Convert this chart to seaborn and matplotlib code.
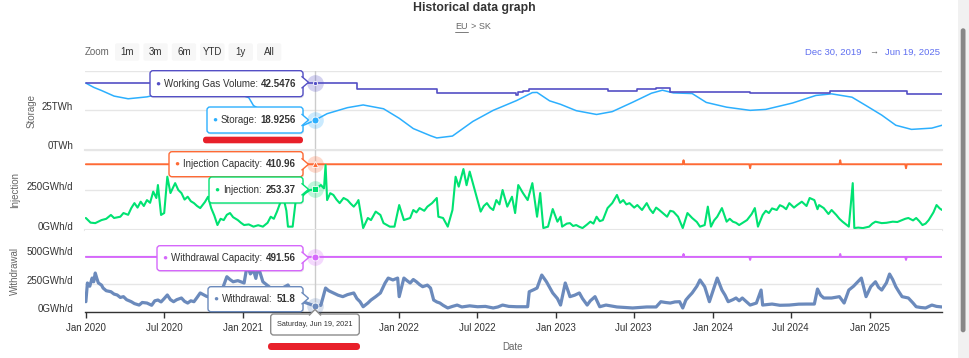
import numpy as np
import pandas as pd
import matplotlib
matplotlib.use('Agg')
import matplotlib.pyplot as plt
import matplotlib.dates as mdates
from matplotlib.ticker import FuncFormatter
import seaborn as sns
from matplotlib.patches import FancyBboxPatch, Polygon, Rectangle
from matplotlib.transforms import Affine2D, ScaledTranslation
from matplotlib.lines import Line2D

# ── data (time in years after 1 Jan 2020) ────────────────────────────────────
storage_pts = [
    (0.00, 42.2), (0.05, 39.5), (0.10, 37.5), (0.18, 34.0), (0.27, 32.3), (0.39, 33.5),
    (0.55, 37.0), (0.75, 40.5), (0.90, 38.0), (1.04, 33.0), (1.07, 28.0), (1.21, 20.0),
    (1.34, 14.8), (1.39, 15.6), (1.465, 18.9256), (1.54, 22.9), (1.67, 26.7), (1.77, 28.4),
    (1.90, 26.0), (2.00, 20.0), (2.09, 13.5), (2.20, 9.0), (2.24, 7.6), (2.34, 8.8),
    (2.47, 18.0), (2.60, 25.0), (2.75, 31.2), (2.85, 36.2), (2.88, 36.3), (2.96, 31.0),
    (3.03, 28.8), (3.13, 24.8), (3.26, 22.4), (3.36, 24.2), (3.49, 30.1), (3.61, 35.8),
    (3.68, 37.7), (3.75, 36.0), (3.87, 35.6), (3.96, 30.0), (4.09, 27.0), (4.24, 25.0),
    (4.34, 25.6), (4.51, 29.6), (4.66, 34.4), (4.76, 35.4), (4.89, 33.3), (4.98, 28.0),
    (5.08, 22.0), (5.17, 15.6), (5.27, 13.0), (5.40, 13.8), (5.465, 15.6),
]
wgv_pts = [
    (0.00, 42.5476), (1.73, 38.5), (2.24, 36.0), (2.745, 34.8), (2.76, 36.5), (2.79, 37.0),
    (2.83, 38.7), (3.33, 37.3), (3.52, 38.2), (3.64, 39.0), (3.73, 36.8), (4.24, 36.0),
    (4.75, 37.3), (5.24, 35.0), (5.465, 35.0),
]
inj_pts = [
    (0.00, 75), (0.03, 46), (0.06, 43), (0.10, 62), (0.13, 70), (0.16, 94), (0.18, 75),
    (0.22, 83), (0.24, 106), (0.27, 95), (0.29, 137), (0.31, 168), (0.33, 140), (0.35, 177),
    (0.37, 150), (0.39, 187), (0.41, 170), (0.43, 240), (0.45, 200), (0.46, 281), (0.48, 94),
    (0.50, 106), (0.52, 333), (0.54, 231), (0.57, 293), (0.59, 250), (0.61, 231), (0.63, 190),
    (0.65, 208), (0.67, 180), (0.69, 168), (0.71, 150), (0.73, 137), (0.76, 175), (0.78, 208),
    (0.80, 137), (0.82, 90), (0.84, 31), (0.86, 70), (0.88, 62), (0.90, 95), (0.92, 106),
    (0.94, 80), (0.97, 62), (0.99, 45), (1.01, 31), (1.04, 35), (1.07, 21), (1.10, 30),
    (1.13, 21), (1.16, 45), (1.18, 83), (1.20, 70), (1.22, 115), (1.24, 168), (1.26, 208),
    (1.28, 120), (1.29, 21), (1.32, 21), (1.34, 187), (1.37, 200), (1.40, 230), (1.43, 250),
    (1.465, 253.37), (1.50, 281), (1.52, 260), (1.53, 406), (1.54, 187), (1.56, 230),
    (1.58, 219), (1.60, 190), (1.62, 168), (1.645, 200), (1.67, 187), (1.69, 165), (1.71, 146),
    (1.73, 170), (1.74, 187), (1.77, 12), (1.80, 75), (1.82, 62), (1.85, 115), (1.88, 94),
    (1.90, 43), (1.94, 21), (1.97, 21), (2.00, 156), (2.03, 62), (2.07, 75), (2.09, 125),
    (2.11, 110), (2.13, 137), (2.16, 120), (2.18, 146), (2.21, 168), (2.24, 200), (2.25, 83),
    (2.28, 75), (2.31, 21), (2.34, 125), (2.36, 333), (2.38, 271), (2.41, 381), (2.43, 280),
    (2.45, 365), (2.47, 293), (2.50, 187), (2.52, 115), (2.54, 150), (2.56, 168), (2.58, 140),
    (2.60, 125), (2.62, 187), (2.64, 160), (2.66, 250), (2.69, 146), (2.72, 208), (2.74, 106),
    (2.76, 281), (2.79, 231), (2.82, 187), (2.85, 293), (2.88, 83), (2.90, 231), (2.92, 12),
    (2.95, 21), (2.98, 131), (3.01, 52), (3.03, 83), (3.04, 21), (3.07, 40), (3.09, 43),
    (3.11, 25), (3.13, 31), (3.15, 20), (3.17, 12), (3.20, 35), (3.22, 52), (3.24, 40),
    (3.26, 83), (3.28, 55), (3.30, 62), (3.33, 137), (3.36, 168), (3.39, 219), (3.41, 170),
    (3.43, 187), (3.45, 160), (3.47, 168), (3.50, 140), (3.52, 156), (3.55, 125), (3.58, 168),
    (3.60, 130), (3.62, 106), (3.64, 140), (3.66, 125), (3.69, 100), (3.71, 83), (3.73, 120),
    (3.75, 115), (3.78, 83), (3.81, 12), (3.84, 106), (3.87, 75), (3.90, 50), (3.92, 21),
    (3.95, 31), (3.97, 146), (3.99, 21), (4.01, 60), (4.03, 83), (4.06, 137), (4.09, 52),
    (4.11, 70), (4.13, 52), (4.15, 45), (4.17, 31), (4.20, 50), (4.22, 62), (4.25, 100),
    (4.27, 137), (4.29, 21), (4.32, 94), (4.34, 120), (4.36, 106), (4.38, 135), (4.41, 125),
    (4.43, 155), (4.45, 146), (4.47, 130), (4.49, 168), (4.52, 140), (4.54, 156), (4.57, 177),
    (4.60, 150), (4.62, 200), (4.65, 187), (4.67, 130), (4.68, 156), (4.71, 137), (4.74, 100),
    (4.76, 125), (4.79, 94), (4.81, 70), (4.83, 52), (4.87, 21), (4.895, 293), (4.905, 12),
    (4.93, 15), (4.96, 12), (5.00, 21), (5.02, 40), (5.04, 52), (5.08, 43), (5.11, 45),
    (5.15, 52), (5.18, 50), (5.21, 62), (5.23, 70), (5.25, 75), (5.28, 60), (5.30, 75),
    (5.32, 55), (5.34, 31), (5.36, 40), (5.38, 62), (5.41, 110), (5.43, 156), (5.45, 135),
    (5.465, 125),
]
wd_pts = [
    (0.00, 92), (0.01, 259), (0.025, 230), (0.04, 303), (0.05, 270), (0.06, 348), (0.07, 300),
    (0.08, 259), (0.10, 240), (0.11, 214), (0.13, 190), (0.16, 181), (0.18, 160), (0.20, 152),
    (0.22, 130), (0.24, 137), (0.26, 110), (0.29, 92), (0.31, 75), (0.34, 62), (0.36, 85),
    (0.39, 80), (0.42, 60), (0.44, 100), (0.46, 107), (0.48, 90), (0.50, 120), (0.52, 152),
    (0.54, 110), (0.56, 92), (0.58, 110), (0.61, 125), (0.63, 95), (0.65, 80), (0.67, 100),
    (0.69, 92), (0.71, 130), (0.73, 170), (0.77, 140), (0.82, 120), (0.87, 200), (0.90, 315),
    (0.92, 290), (0.94, 270), (0.97, 280), (1.01, 259), (1.03, 420), (1.05, 340), (1.07, 375),
    (1.085, 300), (1.10, 405), (1.13, 270), (1.21, 180), (1.29, 241), (1.33, 140), (1.37, 100),
    (1.41, 80), (1.465, 51.8), (1.50, 60), (1.53, 214), (1.55, 190), (1.58, 170), (1.61, 150),
    (1.64, 137), (1.67, 155), (1.71, 170), (1.73, 120), (1.75, 92), (1.77, 47), (1.80, 80),
    (1.82, 107), (1.85, 137), (1.88, 170), (1.91, 259), (1.93, 303), (1.96, 286), (1.99, 303),
    (2.00, 137), (2.03, 303), (2.05, 280), (2.07, 259), (2.09, 290), (2.11, 270), (2.13, 245),
    (2.15, 226), (2.18, 240), (2.20, 214), (2.22, 107), (2.24, 90), (2.26, 80), (2.28, 60),
    (2.31, 36), (2.34, 50), (2.37, 62), (2.40, 45), (2.45, 55), (2.50, 47), (2.55, 50),
    (2.60, 36), (2.63, 45), (2.66, 62), (2.70, 50), (2.75, 47), (2.82, 47), (2.83, 181),
    (2.86, 200), (2.88, 214), (2.91, 330), (2.93, 290), (2.94, 270), (2.96, 220), (2.98, 170),
    (3.01, 120), (3.03, 62), (3.06, 259), (3.08, 180), (3.09, 137), (3.12, 150), (3.15, 170),
    (3.17, 120), (3.20, 62), (3.22, 100), (3.25, 137), (3.28, 47), (3.32, 62), (3.39, 45),
    (3.49, 36), (3.58, 45), (3.64, 45), (3.67, 92), (3.70, 85), (3.73, 80), (3.76, 90),
    (3.79, 92), (3.81, 36), (3.83, 107), (3.85, 140), (3.87, 170), (3.90, 230), (3.92, 286),
    (3.95, 226), (3.98, 92), (4.03, 303), (4.06, 196), (4.08, 150), (4.10, 92), (4.13, 110),
    (4.15, 125), (4.17, 100), (4.19, 125), (4.24, 62), (4.28, 80), (4.31, 196), (4.32, 62),
    (4.38, 71), (4.43, 60), (4.49, 62), (4.55, 70), (4.60, 71), (4.65, 71), (4.67, 205),
    (4.69, 150), (4.71, 125), (4.76, 125), (4.81, 137), (4.84, 80), (4.87, 196), (4.90, 230),
    (4.92, 259), (4.95, 303), (4.98, 137), (5.01, 226), (5.04, 270), (5.06, 220), (5.08, 196),
    (5.11, 260), (5.13, 339), (5.15, 290), (5.17, 226), (5.19, 180), (5.21, 137), (5.25, 125),
    (5.28, 80), (5.30, 47), (5.33, 40), (5.36, 36), (5.40, 62), (5.43, 50), (5.465, 45),
]
inj_cap_pts = [
    (0.00, 410.96), (3.81, 410.96), (3.815, 436), (3.82, 410.96), (4.235, 410.96), (4.24, 386),
    (4.245, 410.96), (4.81, 410.96), (4.815, 436), (4.82, 410.96), (5.23, 410.96), (5.235, 386),
    (5.24, 410.96), (5.465, 410.96),
]
wd_cap_pts = [
    (0.00, 491.56), (3.81, 491.56), (3.815, 518), (3.82, 491.56), (4.235, 491.56), (4.24, 465),
    (4.245, 491.56), (4.81, 491.56), (4.815, 518), (4.82, 491.56), (5.23, 491.56), (5.235, 465),
    (5.24, 491.56), (5.465, 491.56),
]

hover_day = pd.Timestamp('2021-06-19')
hover_vals = {'Working Gas Volume': 42.5476, 'Storage': 18.9256,
              'Injection Capacity': 410.96, 'Injection': 253.37,
              'Withdrawal Capacity': 491.56, 'Withdrawal': 51.8}
range_start, range_end = pd.Timestamp('2019-12-30'), pd.Timestamp('2025-06-19')
zoom_buttons = ['1m', '3m', '6m', 'YTD', '1y', 'All']

C = {'Storage': '#2caffe', 'Working Gas Volume': '#544fc5', 'Injection': '#00e272',
     'Injection Capacity': '#fe6a35', 'Withdrawal': '#6b8abc', 'Withdrawal Capacity': '#d568fb'}

# ── figure setup ──────────────────────────────────────────────────────────────
sns.set_theme(style='white')
plt.rcParams['font.family'] = ['Liberation Sans', 'DejaVu Sans']

W, H = 969, 358
fig = plt.figure(figsize=(W / 100, H / 100), dpi=100)
px = Affine2D().scale(1 / W, -1 / H).translate(0, 1) + fig.transFigure


def rect(l, t, r, b):
    return [l / W, 1 - b / H, (r - l) / W, (b - t) / H]


def frame(pts):
    t, v = zip(*pts)
    d = pd.Timestamp('2020-01-01') + pd.to_timedelta(np.asarray(t) * 365.25, unit='D')
    return pd.DataFrame({'date': d, 'value': v})


ax_s = fig.add_axes(rect(85, 70.7, 942, 150))
ax_i = fig.add_axes(rect(85, 150, 942, 230))
ax_w = fig.add_axes(rect(85, 230, 942, 312))

sns.lineplot(data=frame(storage_pts), x='date', y='value', ax=ax_s, color=C['Storage'],
             lw=1.1, estimator=None)
sns.lineplot(data=frame(wgv_pts), x='date', y='value', ax=ax_s, color=C['Working Gas Volume'],
             lw=1.2, estimator=None, drawstyle='steps-post')
sns.lineplot(data=frame(inj_cap_pts), x='date', y='value', ax=ax_i, color=C['Injection Capacity'],
             lw=1.4, estimator=None)
sns.lineplot(data=frame(inj_pts), x='date', y='value', ax=ax_i, color=C['Injection'],
             lw=1.5, estimator=None)
sns.lineplot(data=frame(wd_cap_pts), x='date', y='value', ax=ax_w, color=C['Withdrawal Capacity'],
             lw=1.4, estimator=None)
sns.lineplot(data=frame(wd_pts), x='date', y='value', ax=ax_w, color=C['Withdrawal'],
             lw=2.3, estimator=None)


def style(ax, ymax, ticks, labels):
    ax.set_xlim(range_start, range_end)
    ax.set_ylim(0, ymax)
    ax.set_yticks(ticks)
    ax.set_yticklabels(labels)
    ax.set_xlabel('')
    ax.set_ylabel('')
    ax.grid(axis='y', color='#e6e6e6', lw=1)
    ax.grid(axis='x', visible=False)
    ax.set_axisbelow(True)
    for s in ['top', 'right', 'left']:
        ax.spines[s].set_visible(False)
    ax.spines['bottom'].set_color('#e6e6e6')
    ax.spines['bottom'].set_linewidth(1.5)
    ax.tick_params(axis='y', length=0, pad=8.6, labelsize=7, labelcolor='#333333')
    ax.tick_params(axis='x', bottom=False, labelbottom=False)
    for lab in ax.get_yticklabels():
        lab.set_transform(lab.get_transform() + ScaledTranslation(0, 0.045, fig.dpi_scale_trans))
    ax.axvline(hover_day, color='#cccccc', lw=1, zorder=1.5)


style(ax_s, 50, [0, 25, 50], ['0TWh', '25TWh', ''])
style(ax_i, 500, [0, 250, 500], ['0GWh/d', '250GWh/d', ''])
style(ax_w, 250 * 82 / 28, [0, 250, 500], ['0GWh/d', '250GWh/d', '500GWh/d'])


def date_label(x, pos):
    d = mdates.num2date(x).replace(tzinfo=None)
    # the label under the date tooltip is hidden in the original
    return '' if abs((d - hover_day).days) < 40 else d.strftime('%b %Y')


ax_w.spines['bottom'].set_color('#333333')
ax_w.spines['bottom'].set_linewidth(1)
ax_w.xaxis.set_major_locator(mdates.MonthLocator(bymonth=[1, 7]))
ax_w.xaxis.set_major_formatter(FuncFormatter(date_label))
ax_w.tick_params(axis='x', bottom=True, labelbottom=True, length=4.3, width=1,
                 color='#333333', labelcolor='#333333', labelsize=7, pad=3.5)

# hover markers
for ax, name, mk, ms in [(ax_s, 'Working Gas Volume', 'o', 3), (ax_s, 'Storage', 'o', 5),
                         (ax_i, 'Injection Capacity', '^', 5), (ax_i, 'Injection', 's', 4.5),
                         (ax_w, 'Withdrawal Capacity', 'o', 5), (ax_w, 'Withdrawal', 'o', 5)]:
    ax.plot([hover_day], [hover_vals[name]], 'o', ms=12, color=C[name], alpha=0.25,
            mec='none', clip_on=False, zorder=4)
    ax.plot([hover_day], [hover_vals[name]], mk, ms=ms, color=C[name], mec='white',
            mew=0.6, clip_on=False, zorder=5)

# ── texts and overlays ───────────────────────────────────────────────────────
renderer = fig.canvas.get_renderer()

fig.text(474, 8.5, 'Historical data graph', transform=px, ha='center', va='center',
         fontsize=8.8, fontweight='bold', color='#333333')
eu = fig.text(468, 26.5, 'EU', transform=px, ha='right', va='center', fontsize=6.5, color='#666666')
fig.text(471, 26.5, '> SK', transform=px, ha='left', va='center', fontsize=6.5, color='#666666')
bb = eu.get_window_extent(renderer)
fig.add_artist(Line2D([bb.x0, bb.x1], [31.5, 31.5], transform=px, color='#666666', lw=0.6))

fig.text(85, 52, 'Zoom', transform=px, ha='left', va='center', fontsize=7, color='#666666')
for k, lab in enumerate(zoom_buttons):
    bx = 115 + k * 28.4
    fig.add_artist(FancyBboxPatch((bx, 43.3), 24.3, 17.4, boxstyle='round,pad=0,rounding_size=2',
                                  transform=px, fc='#f7f7f7', ec='none', zorder=2))
    fig.text(bx + 12.15, 52, lab, transform=px, ha='center', va='center', fontsize=7,
             color='#333333', zorder=3)

fig.text(862, 52, range_start.strftime('%b %d, %Y'), transform=px, ha='right', va='center',
         fontsize=6.8, color='#5f6ff0')
fig.text(874, 52, '→', transform=px, ha='center', va='center', fontsize=6.5, color='#666666')
fig.text(885, 52, range_end.strftime('%b %d, %Y'), transform=px, ha='left', va='center',
         fontsize=6.8, color='#5f6ff0')

fig.text(32, 111, 'Storage', transform=px, rotation=90, ha='center', va='center',
         fontsize=7, color='#666666')
fig.text(15, 190, 'Injection', transform=px, rotation=90, ha='center', va='center',
         fontsize=7, color='#666666')
fig.text(15, 271, 'Withdrawal', transform=px, rotation=90, ha='center', va='center',
         fontsize=7, color='#666666')
fig.text(513, 347, 'Date', transform=px, ha='center', va='center', fontsize=7, color='#666666')


def tooltip(x0, y0, x1, y1, ay, name):
    color = C[name]
    fig.add_artist(FancyBboxPatch((x0 + 1, y0 + 1.5), x1 - x0, y1 - y0,
                                  boxstyle='round,pad=0,rounding_size=3', transform=px,
                                  fc='#000000', alpha=0.08, ec='none', zorder=4.5))
    fig.add_artist(FancyBboxPatch((x0, y0), x1 - x0, y1 - y0, boxstyle='round,pad=0,rounding_size=3',
                                  transform=px, fc='white', ec=color, lw=1, zorder=5))
    fig.add_artist(Polygon([(x1 - 1.5, ay - 6), (x1 + 5.5, ay), (x1 - 1.5, ay + 6)], closed=False,
                           transform=px, fc='white', ec=color, lw=1, zorder=6))
    yc = (y0 + y1) / 2
    fig.text(x0 + 8, yc, '●', transform=px, ha='center', va='center', fontsize=6,
             color=color, zorder=7)
    fig.text(x0 + 14, yc, f'{name}:', transform=px, ha='left', va='center',
             fontsize=7, color='#333333', zorder=7)
    fig.text(x1 - 7, yc, f'{hover_vals[name]:g}', transform=px, ha='right', va='center',
             fontsize=7, fontweight='bold', color='#333333', zorder=7)


tooltip(150, 70.7, 303, 96.7, 82.3, 'Working Gas Volume')
tooltip(207, 107, 303, 133, 120, 'Storage')
tooltip(169, 151.7, 303, 176.7, 164.3, 'Injection Capacity')
tooltip(209, 177, 303, 203, 189.3, 'Injection')
tooltip(157, 245.7, 303, 270.7, 257.7, 'Withdrawal Capacity')
tooltip(208, 286.7, 303, 311.7, 298.3, 'Withdrawal')

# date header tooltip
fig.add_artist(FancyBboxPatch((270.7, 314), 88.6, 21, boxstyle='round,pad=0,rounding_size=3',
                              transform=px, fc='white', ec='#8c8c8c', lw=1, zorder=5))
fig.add_artist(Polygon([(309, 315.5), (315, 309.5), (321, 315.5)], closed=False,
                       transform=px, fc='white', ec='#8c8c8c', lw=1, zorder=6))
fig.text(315, 324.5, hover_day.strftime('%A, %b %d, %Y'), transform=px, ha='center',
         va='center', fontsize=5.3, color='#333333', zorder=7)

# red marker strokes
for (x0, y0, x1, y1) in [(203, 136.7, 303, 143.3), (268, 343, 360, 350)]:
    fig.add_artist(FancyBboxPatch((x0, y0), x1 - x0, y1 - y0,
                                  boxstyle=f'round,pad=0,rounding_size={(y1 - y0) / 2}',
                                  transform=px, fc='#e8202a', ec='none', zorder=8))

# scrollbar
fig.add_artist(Rectangle((958, 0), 11, H, transform=px, fc='#f1f1f1', ec='none', zorder=1))
fig.add_artist(FancyBboxPatch((960.7, 28.3), 4.8, 304, boxstyle='round,pad=0,rounding_size=2.4',
                              transform=px, fc='#878787', ec='none', zorder=2))

fig.savefig('out.png', dpi=100)
